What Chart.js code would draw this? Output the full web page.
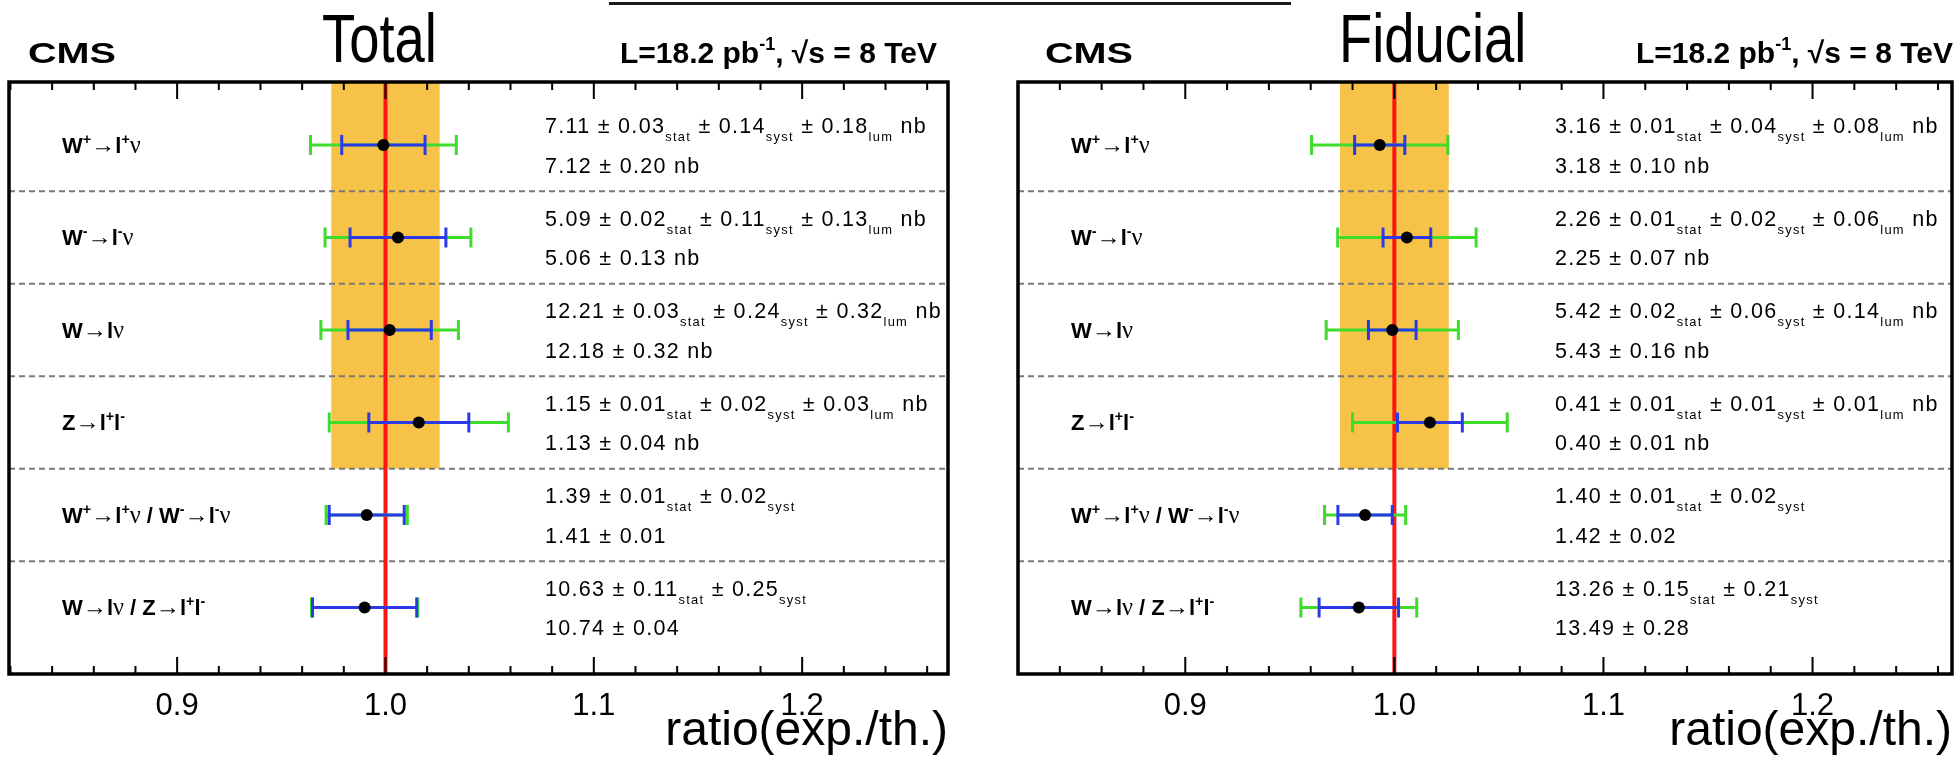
<!DOCTYPE html>
<html>
<head>
<meta charset="utf-8">
<script src="https://cdn.jsdelivr.net/npm/chart.js@4.4.1/dist/chart.umd.min.js"></script>
<style>
  html, body { margin: 0; padding: 0; background: #fff; }
  #wrap { position: relative; width: 1958px; height: 760px; overflow: hidden; }
  #wrap canvas { position: absolute; top: 0; }
  #left { left: 0; }
  #right { left: 979px; }
  #cut { position: absolute; left: 609px; top: 2px; width: 682px; height: 3px; background: #1a1a1a; }
</style>
</head>
<body>
<div id="wrap">
  <canvas id="left" width="979" height="760"></canvas>
  <canvas id="right" width="979" height="760"></canvas>
  <div id="cut"></div>
</div>
<script>
// rows, top to bottom
const rowLabels = [
  'W^{+}→l^{+}ν',
  'W^{-}→l^{-}ν',
  'W→lν',
  'Z→l^{+}l^{-}',
  'W^{+}→l^{+}ν / W^{-}→l^{-}ν',
  'W→lν / Z→l^{+}l^{-}'
];
const majorTicks = [0.9, 1.0, 1.1, 1.2];
const lumiBand = [0.974, 1.026];

// total cross sections: ratio exp./th. with experimental and total uncertainty
const totalRatio  = [0.999, 1.006, 1.002, 1.016, 0.991, 0.990];
const totalExpErr = [0.020, 0.023, 0.020, 0.024, 0.018, 0.025];
const totalAllErr = [0.035, 0.035, 0.033, 0.043, 0.0195, 0.0255];
const totalMeas   = [7.11, 5.09, 12.21, 1.15, 1.39, 10.63];
const totalStat   = [0.03, 0.02, 0.03, 0.01, 0.01, 0.11];
const totalSyst   = [0.14, 0.11, 0.24, 0.02, 0.02, 0.25];
const totalLumi   = [0.18, 0.13, 0.32, 0.03, null, null];
const totalTh     = [7.12, 5.06, 12.18, 1.13, 1.41, 10.74];
const totalThErr  = [0.20, 0.13, 0.32, 0.04, 0.01, 0.04];

// fiducial cross sections
const fidRatio  = [0.993, 1.006, 0.999, 1.017, 0.986, 0.983];
const fidExpErr = [0.012, 0.0114, 0.0114, 0.0155, 0.013, 0.019];
const fidAllErr = [0.0326, 0.0331, 0.0316, 0.037, 0.0194, 0.0277];
const fidMeas   = [3.16, 2.26, 5.42, 0.41, 1.40, 13.26];
const fidStat   = [0.01, 0.01, 0.02, 0.01, 0.01, 0.15];
const fidSyst   = [0.04, 0.02, 0.06, 0.01, 0.02, 0.21];
const fidLumi   = [0.08, 0.06, 0.14, 0.01, null, null];
const fidTh     = [3.18, 2.25, 5.43, 0.40, 1.42, 13.49];
const fidThErr  = [0.10, 0.07, 0.16, 0.01, 0.02, 0.28];

const COLORS = {
  band: '#f6c247',
  unity: '#ff1414',
  total: '#3fdc2c',
  exp: '#2b3ae6',
  sep: '#7a7a7a',
  ink: '#000'
};
const SANS = '"Liberation Sans", Arial, Helvetica, sans-serif';
const SERIF = '"Liberation Serif", "Times New Roman", serif';
const SYMBOLS = '→ν';

// split "a^{b}c_{d}" into plain / sup / sub pieces
function parseRich(str) {
  const out = [];
  let buf = '', i = 0;
  const flush = () => { if (buf) { out.push({ t: buf, mode: 'n' }); buf = ''; } };
  while (i < str.length) {
    const c = str[i];
    if ((c === '^' || c === '_') && str[i + 1] === '{') {
      flush();
      const end = str.indexOf('}', i);
      out.push({ t: str.slice(i + 2, end), mode: c === '^' ? 'sup' : 'sub' });
      i = end + 1;
    } else {
      buf += c;
      i++;
    }
  }
  flush();
  return out;
}

function drawRich(ctx, str, x, y, o) {
  const size = o.size, weight = o.bold ? 'bold ' : '';
  const runs = [];
  for (const part of parseRich(str)) {
    const s = part.mode === 'n' ? size : size * (o.scriptScale || 0.62);
    const dy = part.mode === 'sup' ? -size * 0.42 : part.mode === 'sub' ? size * (o.subDrop || 0.36) : 0;
    let cur = '', curSym = null;
    const push = () => {
      if (!cur) return;
      runs.push({ t: cur, dy, font: curSym ? `${s * 1.1}px ${SERIF}` : `${weight}${s}px ${SANS}` });
      cur = '';
    };
    for (const ch of part.t) {
      const sym = SYMBOLS.includes(ch);
      if (curSym !== null && sym !== curSym) push();
      curSym = sym;
      cur += ch;
    }
    push();
  }
  ctx.save();
  ctx.letterSpacing = (o.spacing || 0) + 'px';
  let w = 0;
  for (const r of runs) { ctx.font = r.font; r.w = ctx.measureText(r.t).width; w += r.w; }
  const sx = o.stretch || 1;
  ctx.translate(o.align === 'right' ? x - w * sx : x, y);
  ctx.scale(sx, 1);
  ctx.fillStyle = COLORS.ink;
  ctx.textBaseline = 'alphabetic';
  ctx.textAlign = 'left';
  let cx = 0;
  for (const r of runs) {
    ctx.font = r.font;
    ctx.fillText(r.t, cx, r.dy);
    cx += r.w;
  }
  ctx.restore();
}

const f2 = v => v.toFixed(2);

function annotationLines(p, i) {
  const nb = p.lumi[i] !== null;
  let l1 = `${f2(p.meas[i])} ± ${f2(p.stat[i])}_{stat} ± ${f2(p.syst[i])}_{syst}`;
  if (nb) l1 += ` ± ${f2(p.lumi[i])}_{lum} nb`;
  const l2 = `${f2(p.th[i])} ± ${f2(p.thErr[i])}` + (nb ? ' nb' : '');
  return [l1, l2];
}

function panelPlugin(p) {
  return {
    id: 'ratioPanel',
    beforeDatasetsDraw(chart) {
      const { ctx, chartArea: a, scales: { x, y } } = chart;
      ctx.save();
      // luminosity band behind the cross-section rows
      const b0 = x.getPixelForValue(lumiBand[0]), b1 = x.getPixelForValue(lumiBand[1]);
      ctx.fillStyle = COLORS.band;
      ctx.fillRect(b0, a.top, b1 - b0, y.getPixelForValue(3.5) - a.top);

      // dashed row separators
      ctx.strokeStyle = COLORS.sep;
      ctx.lineWidth = 2;
      ctx.setLineDash([6, 4]);
      for (let i = 0; i < rowLabels.length - 1; i++) {
        const yy = y.getPixelForValue(i + 0.5);
        ctx.beginPath(); ctx.moveTo(a.left, yy); ctx.lineTo(a.right, yy); ctx.stroke();
      }
      ctx.setLineDash([]);

      // ratio = 1
      const ux = x.getPixelForValue(1.0);
      ctx.strokeStyle = COLORS.unity;
      ctx.lineWidth = 4;
      ctx.beginPath(); ctx.moveTo(ux, a.top); ctx.lineTo(ux, a.bottom); ctx.stroke();

      // error bars: total (green) under experimental (blue)
      const bars = (errs, color) => {
        ctx.strokeStyle = color;
        ctx.lineWidth = 3;
        p.ratio.forEach((r, i) => {
          const yy = y.getPixelForValue(i);
          const x0 = x.getPixelForValue(r - errs[i]), x1 = x.getPixelForValue(r + errs[i]);
          ctx.beginPath();
          ctx.moveTo(x0, yy); ctx.lineTo(x1, yy);
          ctx.moveTo(x0, yy - 10); ctx.lineTo(x0, yy + 10);
          ctx.moveTo(x1, yy - 10); ctx.lineTo(x1, yy + 10);
          ctx.stroke();
        });
      };
      bars(p.allErr, COLORS.total);
      bars(p.expErr, COLORS.exp);
      ctx.restore();
    },
    afterDraw(chart) {
      const { ctx, chartArea: a, scales: { x, y } } = chart;
      ctx.save();
      // inward ticks on top and bottom edges
      ctx.strokeStyle = COLORS.ink;
      ctx.lineWidth = 2;
      for (let k = 41; k <= 63; k++) {
        const v = k * 0.02;
        if (v < x.min || v > x.max) continue;
        const major = k % 5 === 0;
        const len = major ? 17 : 8;
        const xx = x.getPixelForValue(v);
        ctx.beginPath();
        ctx.moveTo(xx, a.bottom); ctx.lineTo(xx, a.bottom - len);
        ctx.moveTo(xx, a.top); ctx.lineTo(xx, a.top + len);
        ctx.stroke();
      }
      // frame
      ctx.lineWidth = 3.5;
      ctx.strokeRect(a.left, a.top, a.right - a.left, a.bottom - a.top);
      ctx.restore();

      // row labels and values
      rowLabels.forEach((lab, i) => {
        const yy = y.getPixelForValue(i);
        drawRich(ctx, lab, a.left + 53, yy + 8, { size: 22, bold: true, scriptScale: 0.65 });
        const [l1, l2] = annotationLines(p, i);
        drawRich(ctx, l1, p.textX, yy - 11.5, { size: 21.5, spacing: 1.3, scriptScale: 0.6 });
        drawRich(ctx, l2, p.textX, yy + 28, { size: 21.5, spacing: 1.3 });
      });

      // header
      drawRich(ctx, 'CMS', p.cmsX, 63, { size: 30, bold: true, stretch: 1.32 });
      drawRich(ctx, 'L=18.2 pb^{-1}, √s = 8 TeV', p.lumiRight, 63, { size: 30, bold: true, align: 'right', scriptScale: 0.6 });
      ctx.save();
      ctx.translate(p.titleX, 62);
      ctx.scale(0.8, 1);
      ctx.font = `68px ${SANS}`;
      ctx.fillStyle = COLORS.ink;
      ctx.fillText(p.title, 0, 0);
      ctx.restore();
    }
  };
}

function buildPanel(canvasId, p) {
  const W = 979, H = 760;
  return new Chart(document.getElementById(canvasId), {
    type: 'scatter',
    data: {
      datasets: [{
        data: p.ratio.map((r, i) => ({ x: r, y: i })),
        pointRadius: 6,
        pointHoverRadius: 6,
        pointBackgroundColor: COLORS.ink,
        pointBorderWidth: 0
      }]
    },
    options: {
      responsive: false,
      animation: false,
      events: [],
      layout: { padding: { left: p.frame[0], right: W - p.frame[1], top: p.frame[2], bottom: 0 } },
      plugins: { legend: { display: false }, tooltip: { enabled: false } },
      scales: {
        x: {
          type: 'linear',
          min: p.xRange[0],
          max: p.xRange[1],
          grid: { display: false },
          border: { display: false },
          ticks: {
            color: COLORS.ink,
            font: { family: SANS, size: 31 },
            padding: 6,
            callback: v => v.toFixed(1)
          },
          afterBuildTicks: s => { s.ticks = majorTicks.map(v => ({ value: v })); },
          afterFit: s => { s.height = H - p.frame[3]; },
          title: {
            display: true,
            text: 'ratio(exp./th.)',
            align: 'end',
            color: COLORS.ink,
            font: { family: SANS, size: 48, lineHeight: 1 },
            padding: { top: 0, bottom: 4 }
          }
        },
        y: { type: 'linear', min: -0.68, max: 5.72, reverse: true, display: false }
      }
    },
    plugins: [panelPlugin(p)]
  });
}

buildPanel('left', {
  title: 'Total', titleX: 322, cmsX: 28, lumiRight: 937, textX: 545,
  frame: [9, 948, 82, 674], xRange: [0.8193, 1.270],
  ratio: totalRatio, expErr: totalExpErr, allErr: totalAllErr,
  meas: totalMeas, stat: totalStat, syst: totalSyst, lumi: totalLumi, th: totalTh, thErr: totalThErr
});

buildPanel('right', {
  title: 'Fiducial', titleX: 360, cmsX: 66, lumiRight: 974, textX: 576,
  frame: [39, 974, 82, 674], xRange: [0.820, 1.2667],
  ratio: fidRatio, expErr: fidExpErr, allErr: fidAllErr,
  meas: fidMeas, stat: fidStat, syst: fidSyst, lumi: fidLumi, th: fidTh, thErr: fidThErr
});
</script>
</body>
</html>
